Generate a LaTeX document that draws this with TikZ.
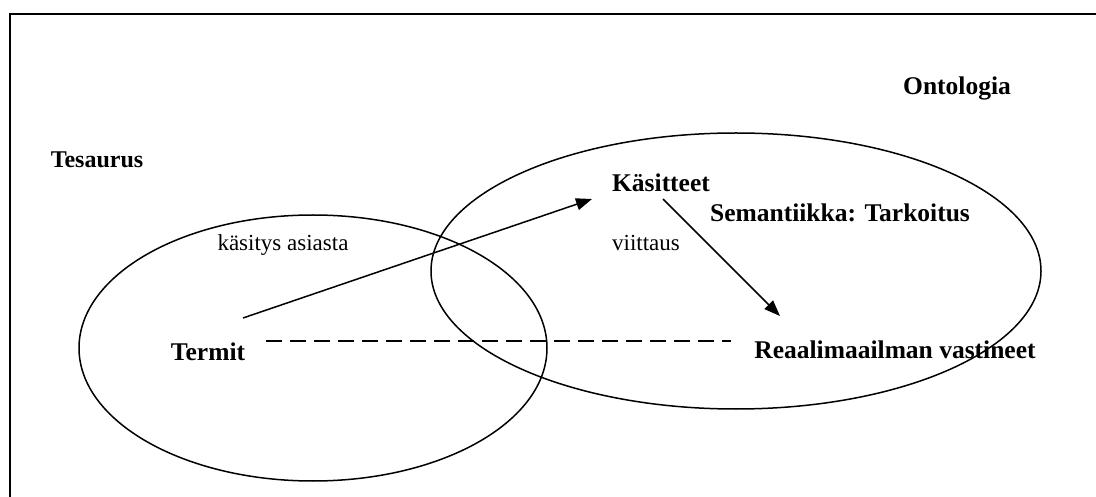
\documentclass[tikz,border=0pt]{standalone}
\usepackage{fontspec}
\setmainfont{Liberation Serif}
\usetikzlibrary{arrows.meta}
\begin{document}
\begin{tikzpicture}[x=1pt,y=1pt,
  lbl/.style={font=\fontsize{25.5}{29}\selectfont\bfseries, inner sep=0pt},
  plain/.style={font=\fontsize{23}{27}\selectfont, inner sep=0pt},
  ln/.style={line width=1.5pt},
  arr/.style={ln, -{Triangle[length=16pt,width=12pt]}}]
\useasboundingbox (0,0) rectangle (1096,496);
\draw[line width=2pt] (10,-10) -- (10,482) -- (1110,482);
\draw[ln] (313,148) ellipse [x radius=234, y radius=133];
\draw[ln] (736,225) ellipse [x radius=305, y radius=138];
\node[lbl] (onto) at (957,408) {Ontologia};
\node[lbl, font=\fontsize{24}{28}\selectfont\bfseries] (tes) at (97,336) {Tesaurus};
\node[lbl] (kas) at (661,313) {Käsitteet};
\node[lbl] (sem) at (840,283) {Semantiikka: Tarkoitus};
\node[plain] (kasitys) at (283,251) {käsitys asiasta};
\node[plain] (viit) at (646,253) {viittaus};
\node[lbl] (term) at (208,144) {Termit};
\node[lbl] (real) at (895,146) {Reaalimaailman vastineet};
\coordinate (a1s) at (243,178);
\coordinate (a1e) at (592,297);
\coordinate (a2s) at (663,297);
\coordinate (a2e) at (780,180);
\coordinate (ds) at (266,155);
\coordinate (de) at (731,155);
\draw[arr] (a1s) -- (a1e);
\draw[arr] (a2s) -- (a2e);
\draw[ln, dash pattern=on 16pt off 8pt] (ds) -- (de);
\end{tikzpicture}
\end{document}
